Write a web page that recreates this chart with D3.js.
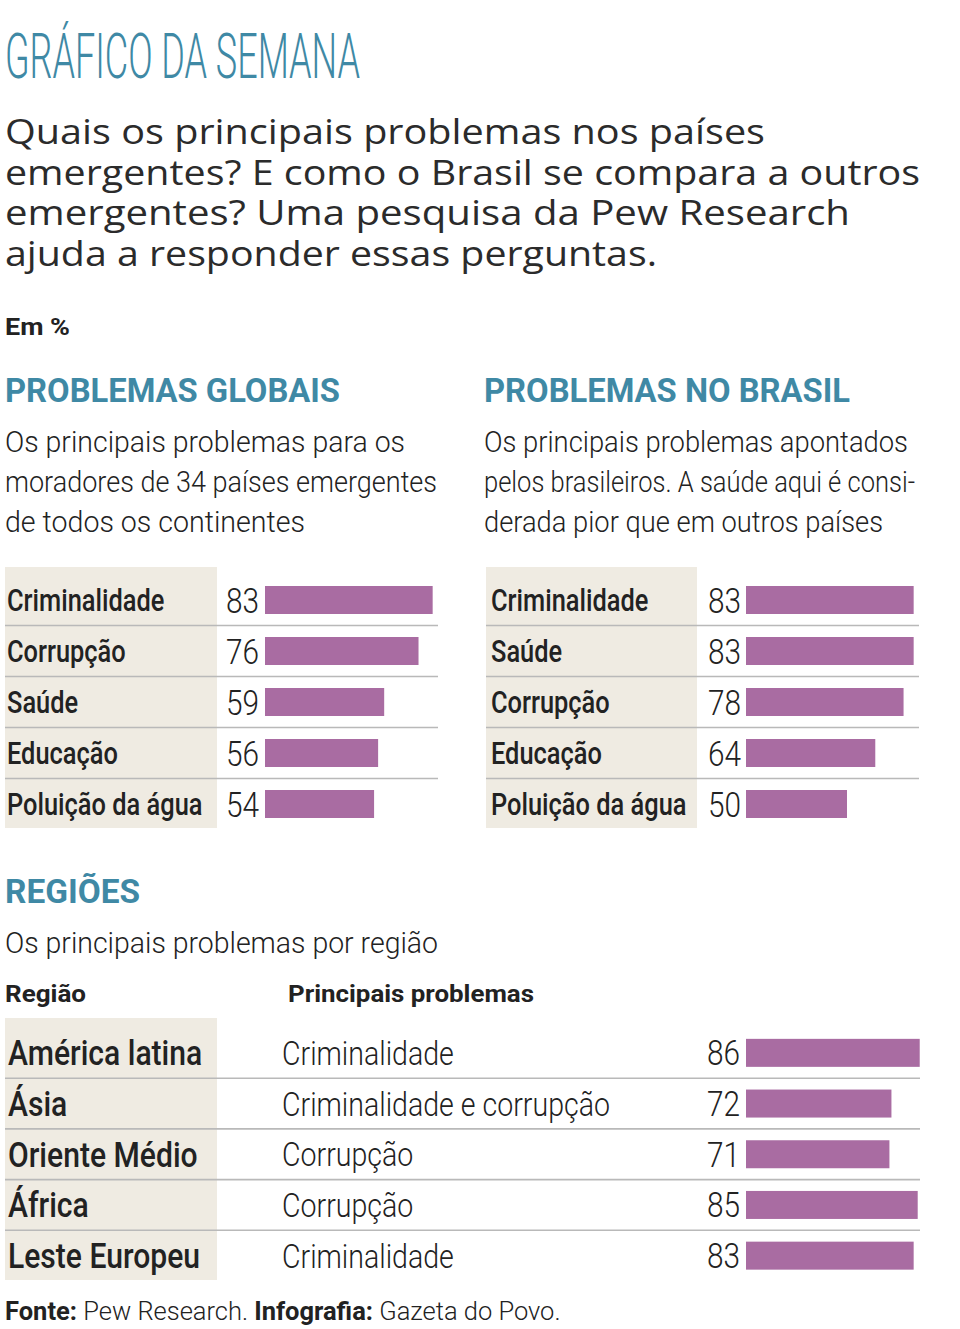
<!DOCTYPE html>
<html>
<head>
<meta charset="utf-8">
<script src="https://cdn.jsdelivr.net/npm/d3@7"></script>
<style>
  body { margin: 0; background: #fff; }
</style>
</head>
<body>
<div id="chart"></div>
<script>
// data (Pew Research, em %)
const globalProblems = ['Criminalidade', 'Corrupção', 'Saúde', 'Educação', 'Poluição da água'];
const globalValues = [83, 76, 59, 56, 54];

const brazilProblems = ['Criminalidade', 'Saúde', 'Corrupção', 'Educação', 'Poluição da água'];
const brazilValues = [83, 83, 78, 64, 50];

const regions = ['América latina', 'Ásia', 'Oriente Médio', 'África', 'Leste Europeu'];
const regionProblems = ['Criminalidade', 'Criminalidade e corrupção', 'Corrupção', 'Corrupção', 'Criminalidade'];
const regionValues = [86, 72, 71, 85, 83];

const introLines = [
    'Quais os principais problemas nos países',
    'emergentes? E como o Brasil se compara a outros',
    'emergentes? Uma pesquisa da Pew Research',
    'ajuda a responder essas perguntas.'
];
const globalNote = ['Os principais problemas para os', 'moradores de 34 países emergentes', 'de todos os continentes'];
const brazilNote = ['Os principais problemas apontados', 'pelos brasileiros. A saúde aqui é consi-', 'derada pior que em outros países'];

// colours
const teal = '#3f89a5';
const purple = '#a96ca2';
const beige = '#efebe2';
const rule = '#b9b9b9';
const ink = '#222';

const svg = d3.select('#chart').append('svg')
    .attr('width', 960)
    .attr('height', 1329);

function addText(parent, str, o) {
    const t = parent.append('text')
        .attr('x', o.x || 0)
        .attr('y', o.y || 0)
        .attr('font-family', o.family || 'Roboto')
        .attr('font-size', o.size)
        .attr('font-weight', o.weight || 400)
        .attr('fill', o.color || ink)
        .attr('text-anchor', o.anchor || 'start')
        .text(str);
    if (o.width) t.attr('textLength', o.width).attr('lengthAdjust', 'spacingAndGlyphs');
    return t;
}

// narrow text: squeeze horizontally around its anchor point
function squeezed(parent, str, x, y, sx, o) {
    const g = parent.append('g').attr('transform', `translate(${x},${y}) scale(${sx},1)`);
    return addText(g, str, o);
}

// header
addText(svg, 'GRÁFICO DA SEMANA', {x: 5, y: 78, size: 63, weight: 300, color: teal, width: 355});

const introWidths = [760, 915, 845, 652];
introLines.forEach((l, i) => {
    addText(svg, l, {x: 5, y: 144 + i * 40.5, size: 34, family: 'Open Sans', color: '#2b2b2b', width: introWidths[i]});
});

addText(svg, 'Em %', {x: 5, y: 335, size: 23, weight: 700, width: 65});

// section titles and notes
addText(svg, 'PROBLEMAS GLOBAIS', {x: 5, y: 402, size: 33, weight: 700, color: teal, width: 335});
addText(svg, 'PROBLEMAS NO BRASIL', {x: 484, y: 402, size: 33, weight: 700, color: teal, width: 366});

const globalNoteW = [400, 432, 300];
globalNote.forEach((l, i) => addText(svg, l, {x: 5, y: 452 + i * 40, size: 29, weight: 300, width: globalNoteW[i]}));
const brazilNoteW = [424, 431, 399];
brazilNote.forEach((l, i) => addText(svg, l, {x: 484, y: 452 + i * 40, size: 29, weight: 300, width: brazilNoteW[i]}));

function barTable(cfg) {
    const n = cfg.labels.length;
    const g = svg.append('g');

    const y = d3.scaleBand()
        .domain(d3.range(n))
        .range([cfg.top, cfg.top + cfg.pitch * n]);
    const x = d3.scaleLinear()
        .domain([0, 100])
        .range([cfg.barX, cfg.barX + 202]);
    const bw = y.bandwidth();

    // beige label column
    g.append('rect')
        .attr('x', cfg.left)
        .attr('y', cfg.shadeTop)
        .attr('width', cfg.shadeW)
        .attr('height', cfg.shadeBottom - cfg.shadeTop)
        .attr('fill', beige);

    // row rules
    g.selectAll('.rule').data(d3.range(n - 1))
        .join('line')
        .attr('class', 'rule')
        .attr('x1', cfg.left)
        .attr('x2', cfg.right)
        .attr('y1', i => y(i) + bw)
        .attr('y2', i => y(i) + bw)
        .attr('stroke', rule)
        .attr('stroke-width', 1.6);

    // bars
    g.selectAll('.bar').data(cfg.values)
        .join('rect')
        .attr('class', 'bar')
        .attr('x', x(0))
        .attr('y', (d, i) => y(i) + bw / 2 - 14)
        .attr('width', d => x(d) - x(0))
        .attr('height', 28)
        .attr('fill', purple);

    cfg.values.forEach((v, i) => {
        const cy = y(i) + bw / 2;
        squeezed(g, v, cfg.valueX, cy + 12.5, 0.85, {size: 35, weight: 300, anchor: 'end'});
        squeezed(g, cfg.labels[i], cfg.left + cfg.labelPad, cy + cfg.labelDy, cfg.labelSx,
            {size: cfg.labelSize, weight: 500});
        if (cfg.problems) {
            squeezed(g, cfg.problems[i], cfg.problemX, cy + 12, 0.84, {size: 34, weight: 300});
        }
    });
}

barTable({
    labels: globalProblems, values: globalValues,
    top: 574.5, pitch: 51, left: 5, right: 438, barX: 265, valueX: 259,
    shadeTop: 567, shadeBottom: 828, shadeW: 212,
    labelPad: 2, labelDy: 11, labelSx: 0.82, labelSize: 31
});

barTable({
    labels: brazilProblems, values: brazilValues,
    top: 574.5, pitch: 51, left: 486, right: 919, barX: 746, valueX: 741,
    shadeTop: 567, shadeBottom: 828, shadeW: 211,
    labelPad: 5, labelDy: 11, labelSx: 0.82, labelSize: 31
});

// regions
addText(svg, 'REGIÕES', {x: 5, y: 903, size: 33, weight: 700, color: teal, width: 135});
addText(svg, 'Os principais problemas por região', {x: 5, y: 953, size: 29, weight: 300, width: 433});
addText(svg, 'Região', {x: 5, y: 1002, size: 24, weight: 700, width: 81});
addText(svg, 'Principais problemas', {x: 288, y: 1002, size: 24, weight: 700, width: 246});

barTable({
    labels: regions, values: regionValues, problems: regionProblems,
    top: 1027.5, pitch: 50.7, left: 5, right: 920, barX: 746, valueX: 740, problemX: 282,
    shadeTop: 1018, shadeBottom: 1280, shadeW: 212,
    labelPad: 3, labelDy: 12.5, labelSx: 0.86, labelSize: 35
});

// footer
const foot = svg.append('g').attr('transform', 'translate(5,1320) scale(0.98,1)');
const ft = foot.append('text')
    .attr('font-family', 'Roboto')
    .attr('font-size', 26)
    .attr('fill', ink);
ft.append('tspan').attr('font-weight', 700).text('Fonte: ');
ft.append('tspan').attr('font-weight', 300).text('Pew Research. ');
ft.append('tspan').attr('font-weight', 700).text('Infografia: ');
ft.append('tspan').attr('font-weight', 300).text('Gazeta do Povo.');
</script>
</body>
</html>
